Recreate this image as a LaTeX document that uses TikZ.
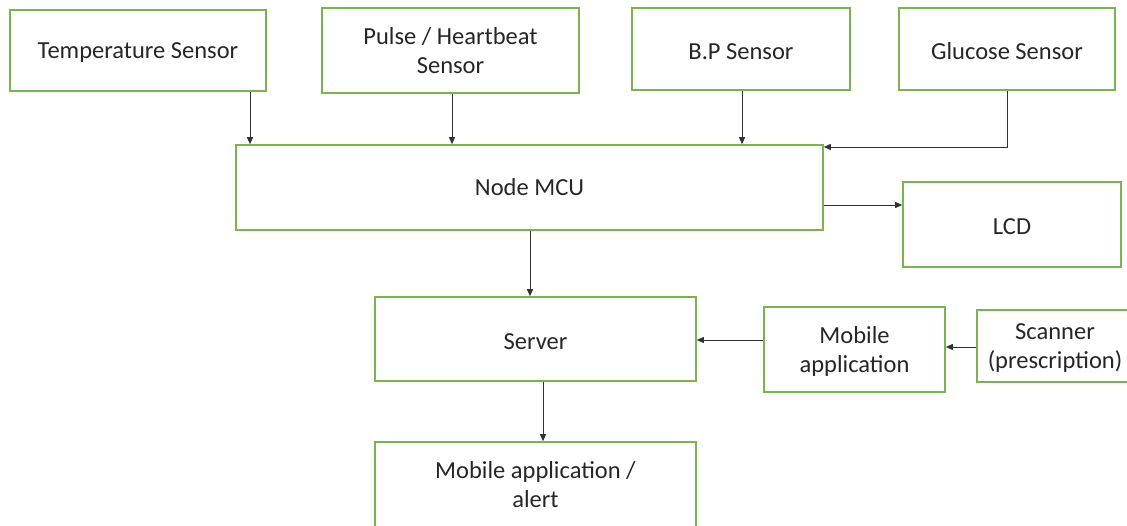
\documentclass[tikz,border=0pt]{standalone}
\usepackage{fontspec}
\setmainfont{Carlito}
\usetikzlibrary{arrows.meta}
\definecolor{boxgreen}{RGB}{122,180,80}
\definecolor{arrowgray}{RGB}{50,50,50}
\newcommand{\dn}[1]{\raisebox{-2.5pt}[\height][\depth]{#1}}
\tikzset{
  blk/.style={draw=boxgreen, line width=1.6pt, fill=white, inner sep=0pt, align=center,
    font=\fontsize{24.5}{29}\selectfont, text=black!85},
  conn/.style={draw=arrowgray, line width=0.9pt, -{Triangle[length=7pt,width=6pt]}}
}
\begin{document}
\begin{tikzpicture}[x=1pt,y=-1pt]
\useasboundingbox[fill=white] (0,0) rectangle (1127,526);
\node[blk, minimum width=256pt, minimum height=81pt] (temp) at (138,50.5) {\dn{Temperature Sensor}};
\node[blk, minimum width=257pt, minimum height=85pt] (pulse) at (450.5,50.5) {\dn{\begin{tabular}{@{}c@{}}Pulse / Heartbeat\\Sensor\end{tabular}}};
\node[blk, minimum width=218pt, minimum height=82pt] (bp) at (741,49) {\dn{B.P Sensor}};
\node[blk, minimum width=216pt, minimum height=82pt] (glu) at (1007,49) {\dn{Glucose Sensor}};
\node[blk, minimum width=587pt, minimum height=85pt] (mcu) at (529.5,187.5) {Node MCU};
\node[blk, minimum width=218pt, minimum height=85pt] (lcd) at (1012,224.5) {\dn{LCD}};
\node[blk, minimum width=321pt, minimum height=84pt] (srv) at (535.5,339) {\dn{Server}};
\node[blk, minimum width=181pt, minimum height=85pt] (mob) at (854.5,349.5) {\dn{\begin{tabular}{@{}c@{}}Mobile\\application\end{tabular}}};
\node[blk, minimum width=156pt, minimum height=72pt] (scan) at (1055,346) {\dn{\begin{tabular}{@{}c@{}}Scanner\\(prescription)\end{tabular}}};
\node[blk, minimum width=321pt, minimum height=86pt] (alert) at (535.5,485) {\dn{\begin{tabular}{@{}c@{}}Mobile application /\\alert\end{tabular}}};
\draw[conn] (temp.south -| 250,0) -- (mcu.north -| 250,0);
\draw[conn] (pulse.south -| 452,0) -- (mcu.north -| 452,0);
\draw[conn] (bp.south -| 742,0) -- (mcu.north -| 742,0);
\draw[conn] (glu.south -| 1007,0) |- (mcu.north east |- 0,147);
\draw[conn] (mcu.east |- 0,205) -- (lcd.west |- 0,205);
\draw[conn] (mcu.south -| 530,0) -- (srv.north -| 530,0);
\draw[conn] (mob.west |- 0,340) -- (srv.east |- 0,340);
\draw[conn] (scan.west |- 0,347) -- (mob.east |- 0,347);
\draw[conn] (srv.south -| 543,0) -- (alert.north -| 543,0);
\end{tikzpicture}
\end{document}
